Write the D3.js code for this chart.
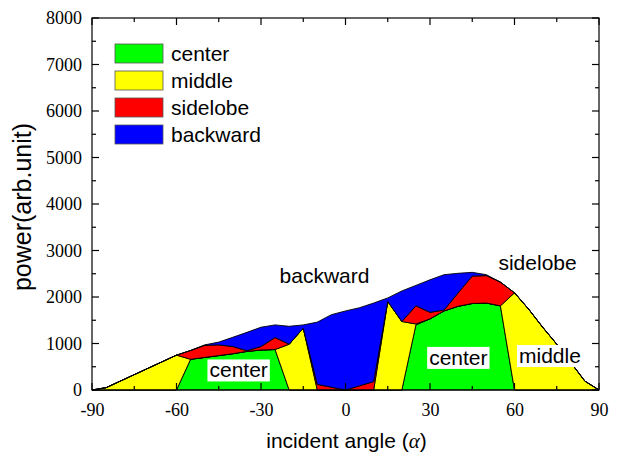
<!DOCTYPE html>
<html>
<head>
<meta charset="utf-8">
<script src="https://cdn.jsdelivr.net/npm/d3@7.9.0/dist/d3.min.js"></script>
<style>
  body { margin: 0; background: #fff; }
  text { font-family: Arial, "Liberation Sans", sans-serif; }
</style>
</head>
<body>
<svg id="chart" width="622" height="456"></svg>
<script>
// incident angle samples (deg)
const angles = [-90, -85, -80, -75, -70, -65, -60, -55, -50, -45, -40, -35, -30, -25, -20, -15, -10, -5, 0,
                5, 10, 15, 20, 25, 30, 35, 40, 45, 50, 55, 60, 65, 70, 75, 80, 85, 90];
const center   = [0, 0, 0, 0, 0, 0, 0, 660, 700, 740, 780, 830, 860, 870, 0, 0, 0, 0, 0,
                  0, 0, 0, 0, 1400, 1530, 1700, 1800, 1860, 1870, 1810, 0, 0, 0, 0, 0, 0, 0];
const middle   = [0, 50, 190, 330, 470, 610, 750, 0, 0, 0, 0, 0, 0, 0, 984, 1330, 0, 0, 0,
                  0, 0, 1905, 1473, 20, 0, 0, 0, 0, 0, 0, 2090, 1740, 1350, 985, 590, 190, 0];
const sidelobe = [0, 0, 0, 0, 0, 0, 0, 190, 260, 230, 154, 15, 74, 258, 0, 0, 120, 60, 0,
                  90, 180, 0, 0, 390, 140, 20, 290, 590, 590, 510, 0, 0, 0, 0, 0, 0, 0];
const backward = [0, 0, 0, 0, 0, 0, 0, 0, 10, 60, 200, 395, 416, 272, 386, 70, 1340, 1560, 1700,
                  1680, 1690, 75, 657, 440, 700, 760, 420, 80, 20, 0, 0, 0, 0, 0, 0, 0, 0];

const keys = ['center', 'middle', 'sidelobe', 'backward'];
const colors = ['#00ff00', '#ffff00', '#ff0000', '#0000ff'];
const xTicks = [-90, -60, -30, 0, 30, 60, 90];
const yTicks = [0, 1000, 2000, 3000, 4000, 5000, 6000, 7000, 8000];

const table = angles.map((a, i) => ({
    angle: a, center: center[i], middle: middle[i], sidelobe: sidelobe[i], backward: backward[i]
}));

const svg = d3.select('#chart');
const pLeft = 92, pRight = 599, pTop = 18, pBottom = 390;
const serif = '"Liberation Serif", "Times New Roman", serif';

const x = d3.scaleLinear().domain([-90, 90]).range([pLeft, pRight]);
const y = d3.scaleLinear().domain([0, 8000]).range([pBottom, pTop]);

const series = d3.stack().keys(keys)(table);
const area = d3.area()
    .x(d => x(d.data.angle))
    .y0(d => y(d[0]))
    .y1(d => y(d[1]));

svg.append('g')
    .selectAll('path')
    .data(series)
    .join('path')
    .attr('d', area)
    .attr('fill', (d, i) => colors[i])
    .attr('stroke', '#000')
    .attr('stroke-width', 0.9)
    .attr('stroke-linejoin', 'round');

// frame with inward ticks on all four sides
svg.append('rect')
    .attr('x', pLeft).attr('y', pTop)
    .attr('width', pRight - pLeft).attr('height', pBottom - pTop)
    .attr('fill', 'none').attr('stroke', '#000').attr('stroke-width', 1.2);

const xMinor = d3.range(-90, 91, 15);
const yMinor = d3.range(0, 8001, 500);
const tk = svg.append('g').attr('stroke', '#000').attr('stroke-width', 1.2);
xMinor.forEach(v => {
    let len = xTicks.includes(v) ? 7 : 4;
    tk.append('line').attr('x1', x(v)).attr('x2', x(v)).attr('y1', pBottom).attr('y2', pBottom - len);
    tk.append('line').attr('x1', x(v)).attr('x2', x(v)).attr('y1', pTop).attr('y2', pTop + len);
});
yMinor.forEach(v => {
    let len = yTicks.includes(v) ? 7 : 4;
    tk.append('line').attr('y1', y(v)).attr('y2', y(v)).attr('x1', pLeft).attr('x2', pLeft + len);
    tk.append('line').attr('y1', y(v)).attr('y2', y(v)).attr('x1', pRight).attr('x2', pRight - len);
});

// tick labels via axes (lines hidden, labels kept)
const xAxis = svg.append('g')
    .attr('transform', `translate(0,${pBottom})`)
    .call(d3.axisBottom(x).tickValues(xTicks).tickSize(0).tickPadding(8).tickFormat(d => String(d)));
const yAxis = svg.append('g')
    .attr('transform', `translate(${pLeft},0)`)
    .call(d3.axisLeft(y).tickValues(yTicks).tickSize(0).tickPadding(10).tickFormat(d => String(d)));
[xAxis, yAxis].forEach(g => {
    g.select('.domain').remove();
    g.attr('font-family', serif).attr('font-size', 18);
    g.selectAll('.tick text').attr('fill', '#000').style('font-family', serif).style('font-size', '18px');
});
xAxis.selectAll('.tick text').attr('dy', '1em');

// axis titles
const xt = svg.append('text')
    .attr('x', (pLeft + pRight) / 2 + 1).attr('y', 448)
    .attr('text-anchor', 'middle').attr('font-size', 21);
xt.append('tspan').text('incident angle (');
xt.append('tspan').text('α').attr('font-style', 'italic').style('font-family', serif);
xt.append('tspan').text(')');

svg.append('text')
    .attr('transform', 'translate(31,207) rotate(-90)')
    .attr('text-anchor', 'middle').attr('font-size', 25)
    .text('power(arb.unit)');

// legend
const legend = svg.append('g').attr('transform', 'translate(115,44)');
keys.forEach((k, i) => {
    let row = legend.append('g').attr('transform', `translate(0,${i * 27})`);
    row.append('rect').attr('width', 48).attr('height', 19)
        .attr('fill', colors[i]).attr('stroke', '#555').attr('stroke-width', 0.8);
    row.append('text').attr('x', 56).attr('y', 17).attr('font-size', 21).text(k);
});

// annotations
function note(txt, px, py, boxed) {
    let t = svg.append('text').attr('x', px).attr('y', py).attr('font-size', 21).text(txt);
    if (boxed) {
        let b = t.node().getBBox();
        svg.insert('rect', () => t.node())
            .attr('x', b.x - 2).attr('y', b.y + 1)
            .attr('width', b.width + 4).attr('height', b.height - 1)
            .attr('fill', '#fff');
    }
}
note('backward', x(-23.4), y(2300), false);
note('sidelobe', x(54.3), y(2580), false);
note('center', x(-48.3), y(270), true);
note('center', x(29.7), y(540), true);
note('middle', x(61.6), y(580), true);
</script>
</body>
</html>
